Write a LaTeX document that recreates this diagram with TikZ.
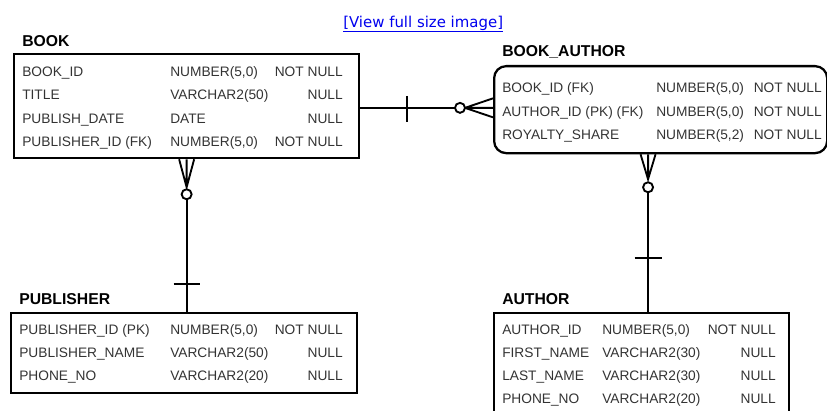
\documentclass[tikz,border=0pt]{standalone}
\usepackage{fontspec}
\setmainfont{Liberation Sans}
\newfontfamily\linkfont{DejaVu Sans}
\usetikzlibrary{calc}
\definecolor{linkblue}{RGB}{0,0,238}
\definecolor{fldgray}{gray}{0.2}
\tikzset{
  tbl/.style={draw,line width=1.7pt,anchor=north west,inner sep=0pt},
  ttl/.style={anchor=base west,inner sep=0pt,font=\fontsize{11.8}{14}\selectfont\bfseries},
  fld/.style={anchor=base west,inner sep=0pt,text=fldgray,font=\fontsize{10.3}{12}\selectfont},
  rel/.style={line width=1.4pt},
}
\begin{document}
\begin{tikzpicture}[x=.75pt,y=-.75pt]
\useasboundingbox (0,0) rectangle (827,410);
% link above the diagram
\node[anchor=base west,inner sep=0pt,text=linkblue,font=\linkfont\fontsize{11.2}{13}\selectfont] (link) at (343,27.5) {[View full size image]};
\draw[linkblue,line width=.8pt] ([yshift=-3pt]link.base west) -- ([yshift=-3pt]link.base east);
% tables
\node[tbl,minimum width=345*.75pt,minimum height=104*.75pt] (book) at (13,53) {};
\node[tbl,minimum width=346*.75pt,minimum height=80*.75pt] (pub) at (10,312) {};
\node[tbl,rounded corners=9pt,minimum width=333*.75pt,minimum height=87*.75pt] (ba) at (493,65) {};
\node[tbl,minimum width=295*.75pt,minimum height=110*.75pt] (auth) at (493,312) {};
\node[ttl] (bookT) at (22,47) {BOOK};\node[ttl] (pubT) at (19,304) {PUBLISHER};
\node[ttl] (baT) at (502,56) {BOOK\_AUTHOR};\node[ttl] (authT) at (502,304) {AUTHOR};
% columns
\foreach \y/\n/\t/\u [count=\i] in {76/BOOK\_ID/{NUMBER(5,0)}/NOT NULL,99.5/TITLE/VARCHAR2(50)/NULL,
  123/PUBLISH\_DATE/DATE/NULL,146.5/PUBLISHER\_ID (FK)/{NUMBER(5,0)}/NOT NULL}{
  \node[fld] (book-n\i) at (22,\y) {\n};\node[fld] (book-t\i) at (170,\y) {\t};
  \node[fld,anchor=base east] (book-u\i) at (343,\y) {\u};}
\foreach \y/\n/\t/\u [count=\i] in {334/PUBLISHER\_ID (PK)/{NUMBER(5,0)}/NOT NULL,
  357.5/PUBLISHER\_NAME/VARCHAR2(50)/NULL,380.5/PHONE\_NO/VARCHAR2(20)/NULL}{
  \node[fld] (pub-n\i) at (19,\y) {\n};\node[fld] (pub-t\i) at (170,\y) {\t};
  \node[fld,anchor=base east] (pub-u\i) at (343,\y) {\u};}
\foreach \y/\n/\t/\u [count=\i] in {93/BOOK\_ID (FK)/{NUMBER(5,0)}/NOT NULL,
  116/AUTHOR\_ID (PK) (FK)/{NUMBER(5,0)}/NOT NULL,139/ROYALTY\_SHARE/{NUMBER(5,2)}/NOT NULL}{
  \node[fld] (ba-n\i) at (502,\y) {\n};\node[fld] (ba-t\i) at (656,\y) {\t};
  \node[fld,anchor=base east] (ba-u\i) at (822,\y) {\u};}
\foreach \y/\n/\t/\u [count=\i] in {334/AUTHOR\_ID/{NUMBER(5,0)}/NOT NULL,357/FIRST\_NAME/VARCHAR2(30)/NULL,
  380/LAST\_NAME/VARCHAR2(30)/NULL,403/PHONE\_NO/VARCHAR2(20)/NULL}{
  \node[fld] (auth-n\i) at (502,\y) {\n};\node[fld] (auth-t\i) at (602,\y) {\t};
  \node[fld,anchor=base east] (auth-u\i) at (776,\y) {\u};}
% BOOK -- BOOK_AUTHOR
\coordinate (baW) at ($(ba.north west)!.48!(ba.south west)$);
\draw[rel] (baW -| book.east) -- ($(baW)+(-38,0)$);
\draw[rel] ($(baW -| book.east)+(47,-12)$) -- ++(0,26);
\draw[rel] ($(baW)+(-28,0)$) -- ($(baW)+(0,-9.5)$) ($(baW)+(-28,0)$) -- (baW) ($(baW)+(-28,0)$) -- ($(baW)+(0,9.5)$);
\draw[rel,fill=white] ($(baW)+(-33,0)$) circle[radius=3.75pt];
% BOOK -- PUBLISHER
\draw[rel] ($(book.south)+(-7.5,0)$) -- ($(book.south)+(0,28)$) -- ($(book.south)+(7.5,0)$) (book.south) -- ++(0,28);
\draw[rel] ($(book.south)+(0,40)$) -- (book.south |- pub.north);
\draw[rel,fill=white] ($(book.south)+(0,35)$) circle[radius=3.75pt];
\draw[rel] ($(book.south |- pub.north)+(-13,-28)$) -- ++(26,0);
% BOOK_AUTHOR -- AUTHOR
\coordinate (baS) at ($(ba.south west)!.4625!(ba.south east)$);
\draw[rel] ($(baS)+(-7.5,0)$) -- ($(baS)+(0,25)$) -- ($(baS)+(7.5,0)$) (baS) -- ++(0,25);
\draw[rel] ($(baS)+(0,38)$) -- (baS |- auth.north);
\draw[rel,fill=white] ($(baS)+(0,33)$) circle[radius=3.75pt];
\draw[rel] ($(baS |- auth.north)+(-13.5,-54)$) -- ++(27,0);
\end{tikzpicture}
\end{document}
